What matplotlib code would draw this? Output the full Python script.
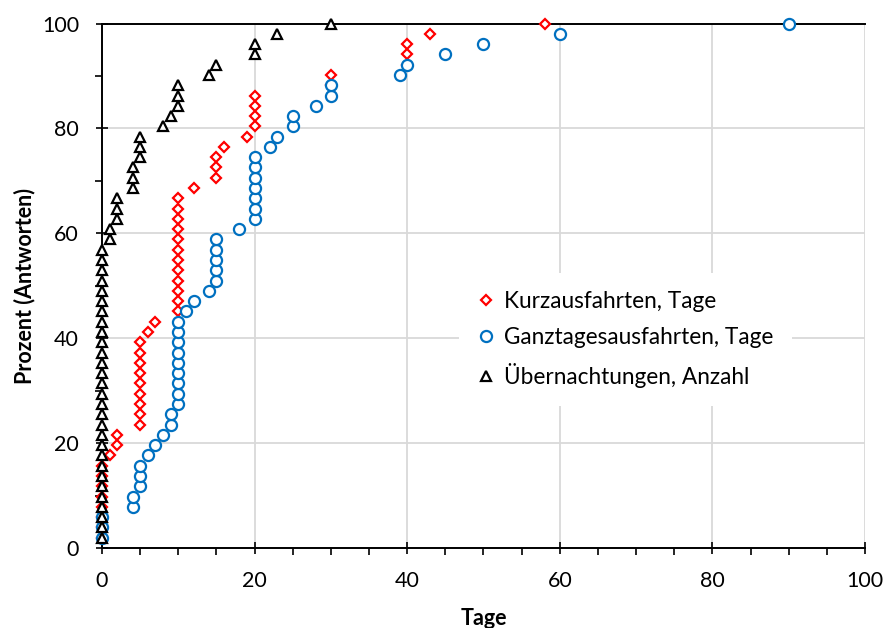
import matplotlib
matplotlib.use("Agg")
import matplotlib.pyplot as plt
from matplotlib.ticker import MultipleLocator

plt.rcParams['font.family'] = ['Lato', 'DejaVu Sans']

# cumulative share of answers (rank / 51 responses), same for all three series
prozent = [1.96, 3.92, 5.88, 7.84, 9.80, 11.76, 13.73, 15.69, 17.65, 19.61,
           21.57, 23.53, 25.49, 27.45, 29.41, 31.37, 33.33, 35.29, 37.25, 39.22,
           41.18, 43.14, 45.10, 47.06, 49.02, 50.98, 52.94, 54.90, 56.86, 58.82,
           60.78, 62.75, 64.71, 66.67, 68.63, 70.59, 72.55, 74.51, 76.47, 78.43,
           80.39, 82.35, 84.31, 86.27, 88.24, 90.20, 92.16, 94.12, 96.08, 98.04,
           100.0]

kurz_tage = [0, 0, 0, 0, 0, 0, 0, 0, 1, 2, 2,
             5, 5, 5, 5, 5, 5, 5, 5, 5, 6, 7,
             10, 10, 10, 10, 10, 10, 10, 10, 10, 10, 10, 10,
             12, 15, 15, 15, 16, 19, 20, 20, 20, 20,
             30, 30, 40, 40, 40, 43, 58]

ganztag_tage = [0, 0, 0, 4, 4, 5, 5, 5, 6, 7, 8, 9, 9,
                10, 10, 10, 10, 10, 10, 10, 10, 10,
                11, 12, 14, 15, 15, 15, 15, 15, 18,
                20, 20, 20, 20, 20, 20, 20,
                22, 23, 25, 25, 28, 30, 30, 39, 40, 45, 50, 60, 90]

uebernacht_anzahl = [0] * 29 + [1, 1, 2, 2, 2, 4, 4, 4, 5, 5, 5, 8, 9,
                                10, 10, 10, 14, 15, 20, 20, 23, 30]

labels = ["Kurzausfahrten, Tage", "Ganztagesausfahrten, Tage", "Übernachtungen, Anzahl"]

fig = plt.figure(figsize=(8.86, 6.28), dpi=100)
ax = fig.add_axes([102/886, 1-548/628, 763/886, 524.5/628])

ax.plot(kurz_tage, prozent, linestyle='none', marker='D', markersize=5.3,
        markerfacecolor='white', markeredgecolor='#FF0000', markeredgewidth=1.6,
        label=labels[0], zorder=3, clip_on=False)
ax.plot(ganztag_tage, prozent, linestyle='none', marker='o', markersize=8.0,
        markerfacecolor='white', markeredgecolor='#0070C0', markeredgewidth=1.6,
        label=labels[1], zorder=4, clip_on=False)
ax.plot(uebernacht_anzahl, prozent, linestyle='none', marker='^', markersize=7.3,
        markerfacecolor='white', markeredgecolor='black', markeredgewidth=1.6,
        label=labels[2], zorder=5, clip_on=False)

ax.set_xlim(0, 100)
ax.set_ylim(0, 100)
ax.xaxis.set_major_locator(MultipleLocator(20))
ax.xaxis.set_minor_locator(MultipleLocator(5))
ax.yaxis.set_major_locator(MultipleLocator(20))
ax.yaxis.set_minor_locator(MultipleLocator(10))

ax.grid(True, which='major', color='#D9D9D9', linewidth=1.3, zorder=0)
ax.set_axisbelow(True)

for s in ['left', 'bottom', 'top']:
    ax.spines[s].set_color('black')
    ax.spines[s].set_linewidth(1.4)
ax.spines['right'].set_visible(False)

ax.tick_params(which='major', direction='inout', length=9, width=1.2,
               labelsize=15.5, colors='black')
ax.tick_params(which='minor', direction='out', length=5, width=1.2)
ax.tick_params(axis='x', which='major', pad=12)
ax.tick_params(axis='y', which='major', pad=12)

ax.set_xlabel("Tage", fontsize=15.5, fontweight='bold', labelpad=12)
ax.set_ylabel("Prozent (Antworten)", fontsize=15.5, fontweight='bold', labelpad=5)

leg = ax.legend(loc='center left', bbox_to_anchor=(0.453, 0.398), fontsize=16.3,
                frameon=True, framealpha=1, facecolor='white', edgecolor='none',
                numpoints=1, handlelength=0.8, handletextpad=0.4,
                labelspacing=0.66, borderpad=0.8, fancybox=False)
leg.set_zorder(6)

fig.savefig("out.png", dpi=100)
